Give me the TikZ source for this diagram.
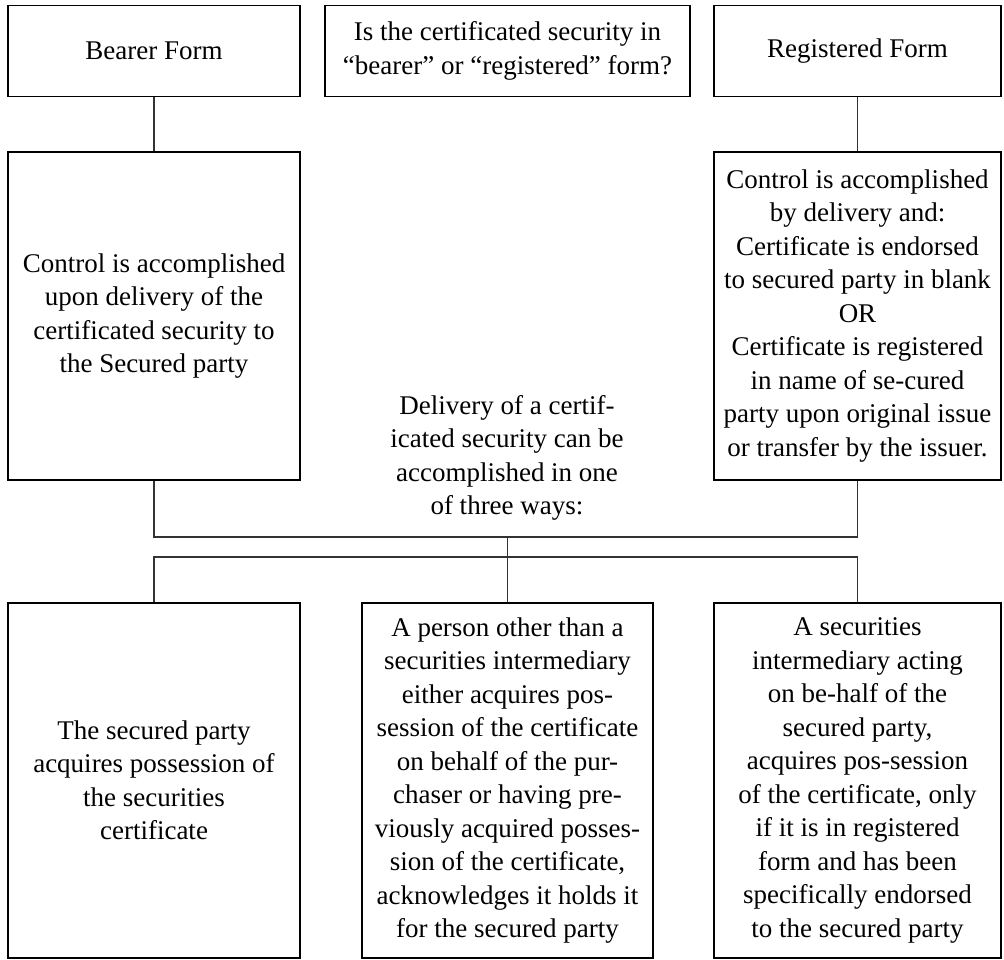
\documentclass[tikz,border=0pt]{standalone}
\usepackage{fontspec}
\setmainfont{Liberation Serif}
\begin{document}
\begin{tikzpicture}[x=1pt,y=-1pt,
  box/.style={draw=black,line width=1.6pt,rectangle,inner sep=0pt,align=center,
    font=\fontsize{27}{33.5}\selectfont},
  txt/.style={align=center,inner sep=0pt,font=\fontsize{27}{33.5}\selectfont},
  link/.style={draw=black!80,line width=1.2pt}]
\useasboundingbox (0,0) rectangle (1004,959);
% top row
\node[box,minimum width=292pt,minimum height=91pt] (bearer) at (154,51) {Bearer Form};
\node[box,minimum width=365pt,minimum height=91pt] (question) at (507.5,51)
  {Is the certificated security in\\“bearer” or “registered” form?};
\node[box,minimum width=287pt,minimum height=91pt] (registered) at (857.5,51) {Registered Form};
% middle row
\node[box,minimum width=292pt,minimum height=328pt] (ctrlL) at (154,316)
  {Control is accomplished\\upon delivery of the\\certificated security to\\the Secured party};
\node[box,minimum width=287pt,minimum height=328pt] (ctrlR) at (857.5,316)
  {Control is accomplished\\by delivery and:\\Certificate is endorsed\\to secured party in blank\\OR\\Certificate is registered\\in name of se-cured\\party upon original issue\\or transfer by the issuer.};
\node[txt] (delivery) at (507,458)
  {Delivery of a certif-\\icated security can be\\accomplished in one\\of three ways:};
% bottom row
\node[box,minimum width=292pt,minimum height=355pt] (way1) at (154,780.5)
  {The secured party\\acquires possession of\\the securities\\certificate};
\node[box,minimum width=291pt,minimum height=355pt] (way2) at (507.5,780.5)
  {A person other than a\\securities intermediary\\either acquires pos-\\session of the certificate\\on behalf of the pur-\\chaser or having pre-\\viously acquired posses-\\sion of the certificate,\\acknowledges it holds it\\for the secured party};
\node[box,minimum width=287pt,minimum height=355pt] (way3) at (857.5,780.5)
  {A securities\\intermediary acting\\on be-half of the\\secured party,\\acquires pos-session\\of the certificate, only\\if it is in registered\\form and has been\\specifically endorsed\\to the secured party};
% junction points
\coordinate (j1) at (507.5,537);
\coordinate (j2) at (507.5,557);
% connectors
\draw[link] (bearer.south) -- (ctrlL.north);
\draw[link] (registered.south) -- (ctrlR.north);
\draw[link] (ctrlL.south) |- (j1) -| (ctrlR.south);
\draw[link] (j1) -- (way2.north);
\draw[link] (way1.north) |- (j2) -| (way3.north);
\end{tikzpicture}
\end{document}
